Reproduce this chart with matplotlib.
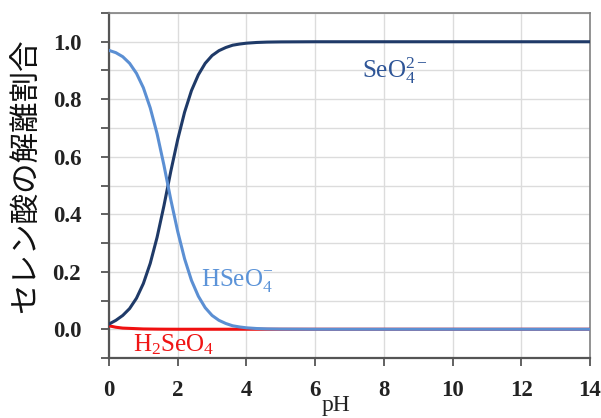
import numpy as np
import matplotlib
matplotlib.use('Agg')
import matplotlib.pyplot as plt
from matplotlib.ticker import MultipleLocator

plt.rcParams['font.family'] = ['Liberation Serif', 'DejaVu Serif']
plt.rcParams['mathtext.fontset'] = 'custom'
plt.rcParams['mathtext.rm'] = 'Liberation Serif'
plt.rcParams['mathtext.it'] = 'Liberation Serif:italic'

# values
ph = [0, 0.2, 0.4, 0.6, 0.8, 1.0, 1.2, 1.4, 1.6, 1.8, 2.0, 2.2, 2.4, 2.6,
      2.8, 3.0, 3.2, 3.4, 3.6, 3.8, 4.0, 4.3, 4.6, 5, 6, 7, 8, 9, 10, 11, 12, 13, 14]
h2seo4 = [0.012, 0.007, 0.004, 0.003, 0.002, 0.001, 0.0007, 0.0004, 0.0002, 0.0001, 0, 0, 0, 0,
          0, 0, 0, 0, 0, 0, 0, 0, 0, 0, 0, 0, 0, 0, 0, 0, 0, 0, 0]
hseo4 = [0.97, 0.962, 0.948, 0.925, 0.89, 0.84, 0.77, 0.68, 0.57, 0.45, 0.34, 0.245, 0.17, 0.115,
         0.075, 0.048, 0.031, 0.02, 0.012, 0.008, 0.005, 0.0025, 0.0012, 0.0005, 0, 0, 0, 0, 0, 0, 0, 0, 0]
seo4 = [0.018, 0.031, 0.048, 0.072, 0.108, 0.159, 0.229, 0.32, 0.43, 0.55, 0.66, 0.755, 0.83, 0.885,
        0.925, 0.952, 0.969, 0.98, 0.988, 0.992, 0.995, 0.9975, 0.9988, 0.9995, 1, 1, 1, 1, 1, 1, 1, 1, 1]

labels = [r'$\mathrm{H_2SeO_4}$', r'$\mathrm{HSeO_4^{-}}$', r'$\mathrm{SeO_4^{2-}}$']
label_pos = [(1.87, -0.053), (3.73, 0.168), (8.32, 0.90)]
colors = ['#f01010', '#5b8fd3', '#1f3a68']
text_colors = ['#f01515', '#5b93d8', '#2e5597']

fig = plt.figure(figsize=(6.01, 4.18), dpi=100)
ax = fig.add_axes([109 / 601, 1 - 358 / 418, (590 - 109) / 601, (358 - 13) / 418])

ax.plot(ph, h2seo4, color=colors[0], lw=2.2, zorder=3)
ax.plot(ph, seo4, color=colors[2], lw=2.2, zorder=4)
ax.plot(ph, hseo4, color=colors[1], lw=2.2, zorder=5)

for lab, (x, y), c in zip(labels, label_pos, text_colors):
    ax.text(x, y, lab, color=c, fontsize=18, ha='center', va='center', zorder=6)

ax.set_xlim(0, 14)
ax.set_ylim(-0.1, 1.1)
ax.xaxis.set_major_locator(MultipleLocator(2))
ax.yaxis.set_minor_locator(MultipleLocator(0.1))
ax.set_yticks([0.0, 0.2, 0.4, 0.6, 0.8, 1.0])
ax.set_yticklabels(['0.0', '0.2', '0.4', '0.6', '0.8', '1.0'])
ax.grid(True, which='both', axis='y', color='#dcdcdc', lw=1.0)
ax.grid(True, which='major', axis='x', color='#dcdcdc', lw=1.0)
ax.set_axisbelow(True)

ax.tick_params(axis='both', which='both', direction='out', length=6, width=1.3,
               color='#555555', labelsize=16.5, labelcolor='#222222')
ax.tick_params(axis='y', pad=14)
ax.tick_params(axis='x', pad=10)
for t in ax.get_xticklabels() + ax.get_yticklabels():
    t.set_fontweight('bold')

for s in ['left', 'bottom']:
    ax.spines[s].set_color('#555555')
    ax.spines[s].set_linewidth(1.6)
for s in ['top', 'right']:
    ax.spines[s].set_color('#808080')
    ax.spines[s].set_linewidth(1.2)

fig.text(27 / 601, 1 - 176 / 418, 'セレン酸の解離割合', rotation=90,
         fontsize=22, family=['Noto Sans CJK JP', 'DejaVu Sans'],
         ha='center', va='center', color='#111111')
fig.text(336 / 601, 1 - 406 / 418, 'pH', fontsize=17, ha='center', va='center',
         color='#222222')

fig.savefig('out.png', dpi=100)
